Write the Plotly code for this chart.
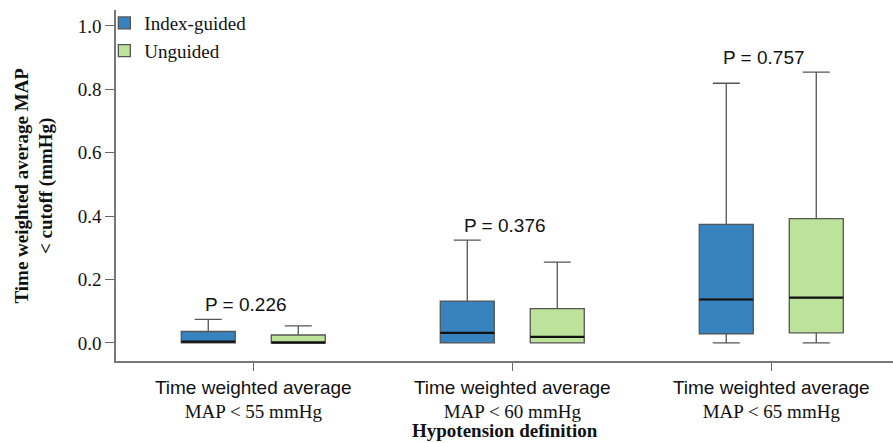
import plotly.graph_objects as go

categories = ["55", "60", "65"]
tick_labels = ["MAP < 55 mmHg", "MAP < 60 mmHg", "MAP < 65 mmHg"]
p_values = ["P = 0.226", "P = 0.376", "P = 0.757"]

# Index-guided
ig_lower = [0.0, 0.0, 0.0]
ig_q1 = [0.0, 0.0, 0.029]
ig_median = [0.004, 0.032, 0.137]
ig_q3 = [0.036, 0.132, 0.374]
ig_upper = [0.074, 0.324, 0.819]

# Unguided
ug_lower = [0.0, 0.0, 0.0]
ug_q1 = [0.0, 0.0, 0.032]
ug_median = [0.001, 0.019, 0.143]
ug_q3 = [0.025, 0.108, 0.392]
ug_upper = [0.054, 0.255, 0.854]

BLUE = "#3683c0"
GREEN = "#bde39a"
SERIF = "Liberation Serif"
SANS = "Liberation Sans"

fig = go.Figure()

series = [
    ("Index-guided", BLUE, ig_lower, ig_q1, ig_median, ig_q3, ig_upper, "a"),
    ("Unguided", GREEN, ug_lower, ug_q1, ug_median, ug_q3, ug_upper, "b"),
]

for name, color, lo, q1, med, q3, up, og in series:
    fig.add_trace(go.Box(
        name=name, x=categories, lowerfence=lo, q1=q1, median=med, q3=q3,
        upperfence=up, fillcolor=color, line=dict(color="#555555", width=1.3),
        whiskerwidth=0.5, offsetgroup=og, boxpoints=False, hoverinfo="skip",
    ))
for name, color, lo, q1, med, q3, up, og in series:
    fig.add_trace(go.Box(
        name=name + " median", x=categories, lowerfence=med, q1=med, median=med,
        q3=med, upperfence=med, fillcolor="rgba(0,0,0,0)",
        line=dict(color="#111111", width=2.2), whiskerwidth=0,
        offsetgroup=og, boxpoints=False, showlegend=False, hoverinfo="skip",
    ))

# P-value labels above the tallest whisker in each group
for i, (p, a, b) in enumerate(zip(p_values, ig_upper, ug_upper)):
    fig.add_annotation(x=i, y=max(a, b), text=p, showarrow=False,
                       yanchor="middle", xanchor="center", yshift=15, xshift=-7,
                       font=dict(family=SANS, size=19, color="#111"))

ticktext = [f"<span style='font-family:{SANS}'>Time weighted average</span><br>{t}"
            for t in tick_labels]

fig.update_layout(
    width=893, height=443,
    margin=dict(l=116, r=0, t=10, b=82, autoexpand=False),
    plot_bgcolor="white", paper_bgcolor="white",
    boxmode="group", boxgap=0.305, boxgroupgap=0.4,
    showlegend=True,
    legend=dict(x=-0.015, y=1.017, xanchor="left", yanchor="top",
                font=dict(family=SERIF, size=19, color="#111"),
                bgcolor="rgba(0,0,0,0)", tracegroupgap=0, itemwidth=30),
    xaxis=dict(type="category", categoryorder="array", categoryarray=categories,
               range=[-0.53, 2.47], tickmode="array", tickvals=categories,
               ticktext=ticktext, ticks="outside", ticklen=8, automargin=False,
               tickcolor="#666", tickwidth=1.3, showline=True, linecolor="#777",
               linewidth=1.5, showgrid=False, zeroline=False,
               tickfont=dict(family=SERIF, size=19, color="#111")),
    yaxis=dict(range=[-0.057, 1.05], tickmode="array", automargin=False,
               tickvals=[0, 0.2, 0.4, 0.6, 0.8, 1.0], tickformat=".1f",
               ticks="outside", ticklen=9, tickcolor="#666", tickwidth=1.3,
               showline=True, linecolor="#777", linewidth=1.5, showgrid=False,
               zeroline=False, tickfont=dict(family=SERIF, size=19, color="#111")),
)

fig.add_annotation(xref="paper", yref="paper", x=0.5, y=-0.198,
                   text="<b>Hypotension definition</b>", showarrow=False,
                   xanchor="center", yanchor="middle",
                   font=dict(family=SERIF, size=19, color="#111"))
fig.add_annotation(xref="paper", yref="paper", x=-0.1055, y=0.5,
                   text="<b>Time weighted average MAP<br>< cutoff (mmHg)</b>",
                   showarrow=False, textangle=-90, xanchor="center",
                   yanchor="middle", font=dict(family=SERIF, size=19, color="#111"))

fig.write_html("out.html", config={"displayModeBar": False},
               post_script="document.body.style.margin='0';")
